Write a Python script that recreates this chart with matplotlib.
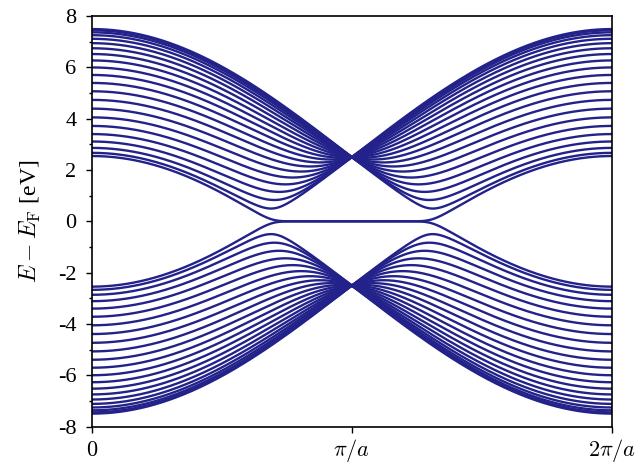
import numpy as np
import matplotlib
matplotlib.use('Agg')
import matplotlib.pyplot as plt
from matplotlib.ticker import MultipleLocator

# zigzag ribbon tight-binding parameters
t_hop = 2.5        # eV, all bands meet at +-t at k = pi/a
n_chains = 22      # number of bands above E_F
n_k = 600

x_ticks = [0, np.pi, 2 * np.pi]
x_ticklabels = ['$0$', r'$\pi/a$', r'$2\pi/a$']
y_ticks = [-8, -6, -4, -2, 0, 2, 4, 6, 8]

k_vals = np.linspace(0, 2 * np.pi, n_k)

bands = []
for k in k_vals:
    # effective 1D chain: 2t cos(ka/2) inside a zigzag chain, t between chains
    hops = []
    for i in range(2 * n_chains - 1):
        hops.append(2 * t_hop * np.cos(k / 2) if i % 2 == 0 else t_hop)
    H = np.diag(hops, 1) + np.diag(hops, -1)
    bands.append(np.linalg.eigvalsh(H))
bands = np.array(bands)

plt.rcParams['font.family'] = ['Liberation Serif', 'DejaVu Serif']
plt.rcParams['mathtext.fontset'] = 'cm'
plt.rcParams['axes.unicode_minus'] = False

fig = plt.figure(figsize=(6.38, 4.65), dpi=100)
ax = fig.add_axes([0.144, 0.082, 0.815, 0.884])

for j in range(bands.shape[1]):
    ax.plot(k_vals, bands[:, j], color='#22228a', lw=1.7)

ax.set_xlim(0, 2 * np.pi)
ax.set_ylim(-8, 8)
ax.set_xticks(x_ticks)
ax.set_xticklabels(x_ticklabels)
ax.set_yticks(y_ticks)
ax.yaxis.set_minor_locator(MultipleLocator(1))
ax.tick_params(axis='both', direction='out', length=4, width=1, labelsize=16,
               top=False, right=False)
ax.tick_params(axis='y', which='minor', direction='out', length=2.5, width=1)
ax.tick_params(axis='y', pad=7)
ax.tick_params(axis='x', pad=17)
for lbl in ax.get_xticklabels():
    lbl.set_verticalalignment('baseline')
ax.set_ylabel(r'$E - E_\mathrm{F}$ [eV]', fontsize=17, labelpad=11)
for s in ax.spines.values():
    s.set_linewidth(1.2)

fig.savefig('out.png', dpi=100)
